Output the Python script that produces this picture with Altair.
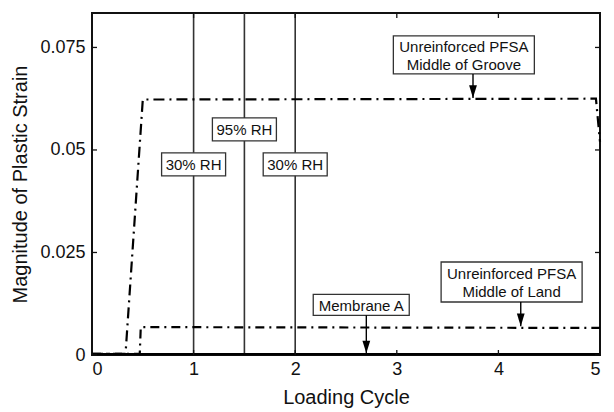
import altair as alt
import pandas as pd

# ---- data ----
groove_x = [0.0, 0.33, 0.50, 4.96, 5.0]
groove_y = [0.0003, 0.0003, 0.0623, 0.0625, 0.052]
land_x = [0.0, 0.47, 0.48, 5.0]
land_y = [0.0003, 0.0003, 0.0068, 0.0066]
memb_x = [0.0, 5.0]
memb_y = [0.0002, 0.0002]

rh_x = [1.0, 1.5, 2.0]
rh_label = ["30% RH", "95% RH", "30% RH"]
rh_label_y = [0.0465, 0.0550, 0.0465]

x_ticks = [0, 1, 2, 3, 4, 5]
y_ticks = [0, 0.025, 0.05, 0.075]

# annotation texts
ann_text = [["Unreinforced PFSA", "Middle of Groove"],
            ["Unreinforced PFSA", "Middle of Land"],
            ["Membrane A"]]
ann_cx = [3.66, 4.13, 2.65]
ann_cy = [0.0732, 0.0178, 0.0122]
ann_w = [141, 141, 96]
ann_h = [38, 40, 21]
arrow_x = [3.75, 4.22, 2.70]
arrow_y1 = [0.0685, 0.0129, 0.0097]
arrow_y2 = [0.0627, 0.0070, 0.0004]

# ---- layout ----
W, H = 508, 342
XMAX, YMAX = 5.0, 0.0834
PX = W / XMAX
PY = H / YMAX
LINE_H = 18

xs = alt.Scale(domain=[0, XMAX], nice=False, zero=False)
ys = alt.Scale(domain=[0, YMAX], nice=False, zero=False)

FONT = "Liberation Sans"

lines_df = pd.DataFrame(
    [{"x": a, "y": b, "s": "groove", "o": i} for i, (a, b) in enumerate(zip(groove_x, groove_y))]
    + [{"x": a, "y": b, "s": "land", "o": i} for i, (a, b) in enumerate(zip(land_x, land_y))]
    + [{"x": a, "y": b, "s": "memb", "o": i} for i, (a, b) in enumerate(zip(memb_x, memb_y))]
)

base_x = alt.X("x:Q", scale=xs, title="Loading Cycle",
               axis=alt.Axis(values=x_ticks, tickSize=0, domain=False, grid=False,
                             labelExpr="toString(datum.value)",
                             labelFont=FONT, labelFontSize=18, labelPadding=5,
                             labelColor="#111", titleFont=FONT, titleFontSize=20,
                             titleFontWeight="normal", titleColor="#111",
                             titleY=48, titleBaseline="alphabetic"))
base_y = alt.Y("y:Q", scale=ys, title="Magnitude of Plastic Strain",
               axis=alt.Axis(values=y_ticks, tickSize=0, domain=False, grid=False,
                             labelExpr="toString(datum.value)",
                             labelFont=FONT, labelFontSize=18, labelPadding=7,
                             labelColor="#111", titleFont=FONT, titleFontSize=20,
                             titleFontWeight="normal", titleColor="#111",
                             titleX=-72, titleBaseline="middle"))

# RH vertical rules
rh_df = pd.DataFrame({"x": rh_x, "y": [0.0] * 3, "y2": [YMAX] * 3,
                      "label": rh_label, "ly": rh_label_y})
rh_rules = alt.Chart(rh_df).mark_rule(color="#333", strokeWidth=1.6).encode(
    x=base_x, y=base_y, y2="y2:Q")

# RH label boxes
rh_box_df = pd.DataFrame({
    "x1": [v - 32 / PX for v in rh_x], "x2": [v + 32 / PX for v in rh_x],
    "y1": [v - 11.5 / PY for v in rh_label_y], "y2": [v + 11.5 / PY for v in rh_label_y],
})
rh_boxes = alt.Chart(rh_box_df).mark_rect(fill="white", stroke="#333", strokeWidth=1.3).encode(
    x=alt.X("x1:Q", scale=xs), x2="x2:Q", y=alt.Y("y1:Q", scale=ys), y2="y2:Q")
rh_text = alt.Chart(rh_df).mark_text(font=FONT, fontSize=15, color="#111", baseline="middle", dy=1).encode(
    x=alt.X("x:Q", scale=xs), y=alt.Y("ly:Q", scale=ys), text="label:N")

# data lines
lines = alt.Chart(lines_df).mark_line(strokeWidth=2.2, color="black").encode(
    x=base_x, y=base_y, order="o:Q",
    strokeDash=alt.StrokeDash("s:N", legend=None,
                              scale=alt.Scale(domain=["groove", "land", "memb"],
                                              range=[[11, 5, 2, 5], [9, 5, 2, 5], [1, 0]])),
    detail="s:N")

# annotation boxes
ann_box_df = pd.DataFrame({
    "x1": [c - w / 2 / PX for c, w in zip(ann_cx, ann_w)],
    "x2": [c + w / 2 / PX for c, w in zip(ann_cx, ann_w)],
    "y1": [c - h / 2 / PY for c, h in zip(ann_cy, ann_h)],
    "y2": [c + h / 2 / PY for c, h in zip(ann_cy, ann_h)],
})
ann_boxes = alt.Chart(ann_box_df).mark_rect(fill="white", stroke="#333", strokeWidth=1.3).encode(
    x=alt.X("x1:Q", scale=xs), x2="x2:Q", y=alt.Y("y1:Q", scale=ys), y2="y2:Q")

rows = []
for t, cx, cy in zip(ann_text, ann_cx, ann_cy):
    n = len(t)
    for k, line in enumerate(t):
        off_px = ((n - 1) / 2 - k) * LINE_H
        rows.append({"x": cx, "y": cy + off_px / PY, "t": line})
ann_df = pd.DataFrame(rows)
ann_txt = alt.Chart(ann_df).mark_text(font=FONT, fontSize=15, color="#111",
                                      baseline="middle", dy=1).encode(
    x=alt.X("x:Q", scale=xs), y=alt.Y("y:Q", scale=ys), text="t:N")

# arrows
arr_df = pd.DataFrame({"x": arrow_x, "y1": arrow_y1, "y2": arrow_y2})
arr_rules = alt.Chart(arr_df).mark_rule(color="black", strokeWidth=1.4).encode(
    x=alt.X("x:Q", scale=xs), y=alt.Y("y1:Q", scale=ys), y2="y2:Q")
arr_heads = alt.Chart(arr_df).mark_point(
    shape="M-0.4,-1.3L0.4,-1.3L0,0Z", filled=True, color="black", opacity=1, size=380,
    strokeWidth=0).encode(
    x=alt.X("x:Q", scale=xs), y=alt.Y("y2:Q", scale=ys))

# inward ticks
xt_df = pd.DataFrame({"x": x_ticks})
yt_df = pd.DataFrame({"y": y_ticks})
tick_col = "#111"
xt_bot = alt.Chart(xt_df).mark_rule(color=tick_col, strokeWidth=1.3).encode(
    x=alt.X("x:Q", scale=xs), y=alt.value(H), y2=alt.value(H - 5))
xt_top = alt.Chart(xt_df).mark_rule(color=tick_col, strokeWidth=1.3).encode(
    x=alt.X("x:Q", scale=xs), y=alt.value(0), y2=alt.value(5))
yt_left = alt.Chart(yt_df).mark_rule(color=tick_col, strokeWidth=1.3).encode(
    y=alt.Y("y:Q", scale=ys), x=alt.value(0), x2=alt.value(5))
yt_right = alt.Chart(yt_df).mark_rule(color=tick_col, strokeWidth=1.3).encode(
    y=alt.Y("y:Q", scale=ys), x=alt.value(W), x2=alt.value(W - 5))

chart = alt.layer(
    rh_rules, lines, rh_boxes, rh_text, ann_boxes, ann_txt, arr_rules, arr_heads,
    xt_bot, xt_top, yt_left, yt_right
).properties(
    width=W, height=H,
    autosize=alt.AutoSizeParams(type="none"),
    padding={"left": 84, "top": 5, "right": 6, "bottom": 56},
    background="white",
).configure_view(
    stroke="#111", strokeWidth=2
)

chart.save("out.html", embed_options={"renderer": "svg", "actions": False})
